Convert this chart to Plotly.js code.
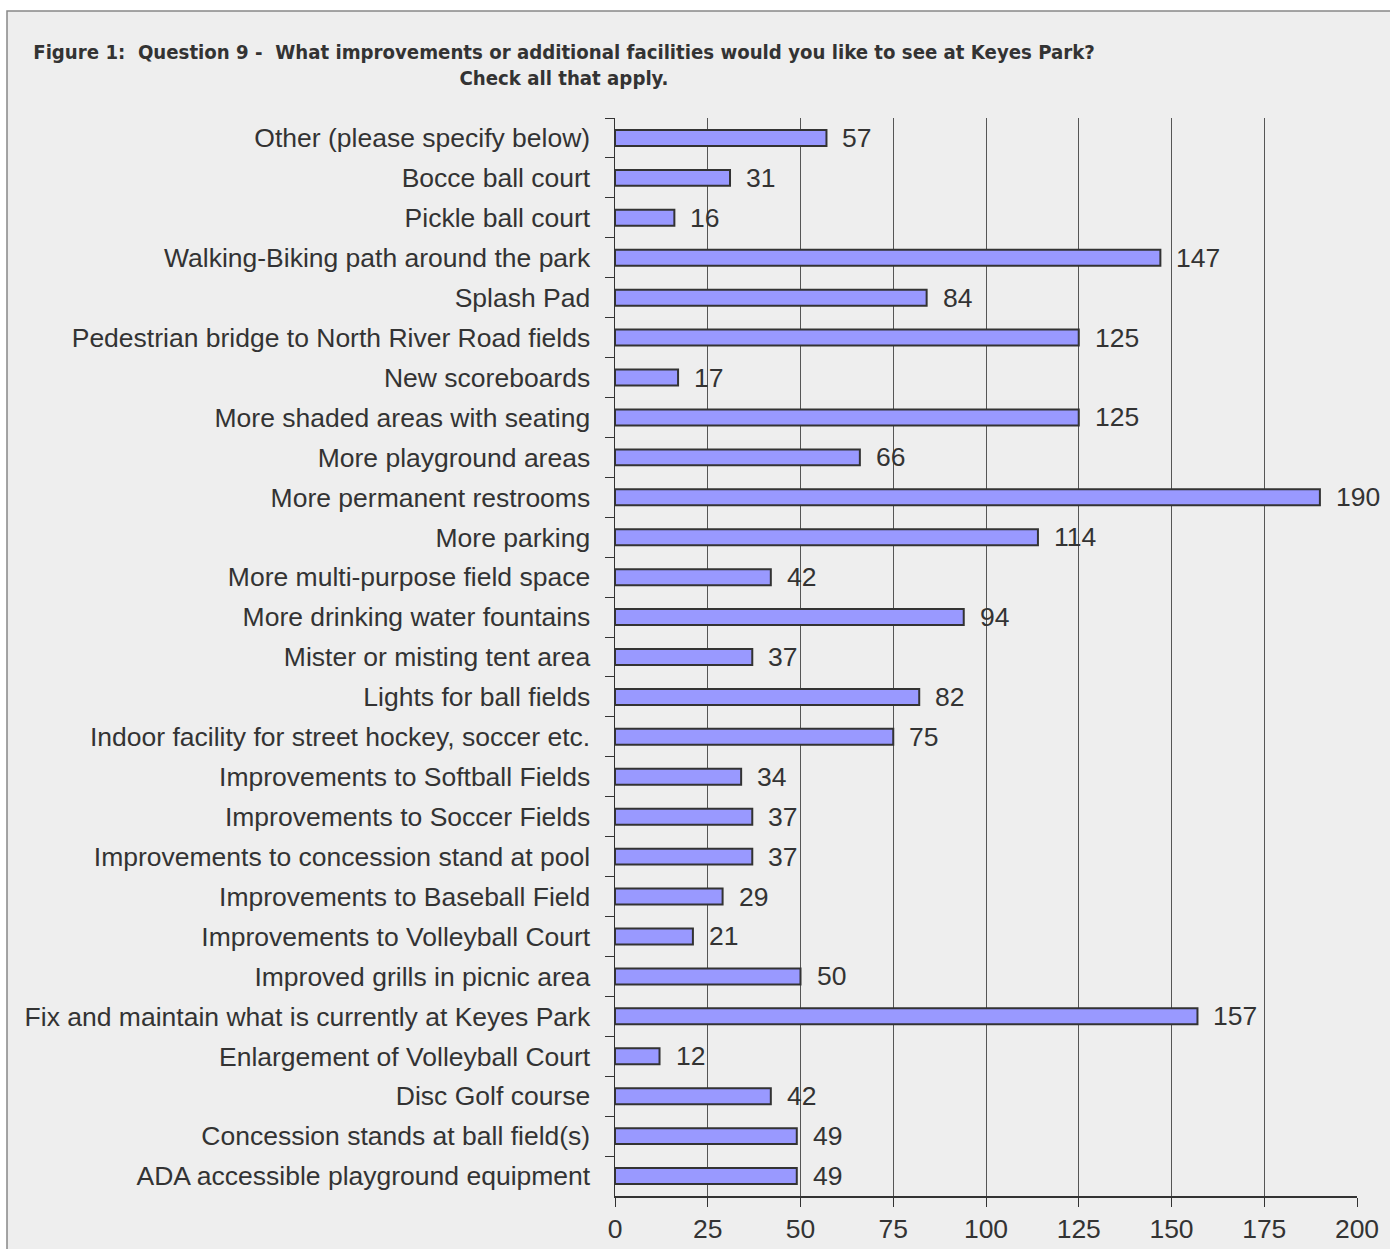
<!DOCTYPE html>
<html>
<head>
<meta charset="utf-8">
<script src="https://cdn.plot.ly/plotly-3.0.1.min.js"></script>
<style>html,body{margin:0;padding:0;background:#fff;}#chart{width:1390px;height:1249px;}</style>
</head>
<body>
<div id="chart"></div>
<script>
const categories = [
  "Other (please specify below)",
  "Bocce ball court",
  "Pickle ball court",
  "Walking-Biking path around the park",
  "Splash Pad",
  "Pedestrian bridge to North River Road fields",
  "New scoreboards",
  "More shaded areas with seating",
  "More playground areas",
  "More permanent restrooms",
  "More parking",
  "More multi-purpose field space",
  "More drinking water fountains",
  "Mister or misting tent area",
  "Lights for ball fields",
  "Indoor facility for street hockey, soccer etc.",
  "Improvements to Softball Fields",
  "Improvements to Soccer Fields",
  "Improvements to concession stand at pool",
  "Improvements to Baseball Field",
  "Improvements to Volleyball Court",
  "Improved grills in picnic area",
  "Fix and maintain what is currently at Keyes Park",
  "Enlargement of Volleyball Court",
  "Disc Golf course",
  "Concession stands at ball field(s)",
  "ADA accessible playground equipment"
];
const counts = [57, 31, 16, 147, 84, 125, 17, 125, 66, 190, 114, 42, 94, 37, 82, 75, 34, 37, 37, 29, 21, 50, 157, 12, 42, 49, 49];
const xTicks = [0, 25, 50, 75, 100, 125, 150, 175, 200];
const titleText = "Figure 1:  Question 9 -  What improvements or additional facilities would you like to see at Keyes Park?<br>Check all that apply.";

const labelFont = {family: "Liberation Sans, Arial, sans-serif", size: 26.5, color: "#333333"};

const trace = {
  type: "bar",
  orientation: "h",
  y: categories,
  x: counts,
  width: 0.4,
  marker: {color: "#9999FF", line: {color: "#333333", width: 2}},
  hoverinfo: "x+y"
};

const annotations = counts.map((v, i) => ({
  x: v, y: categories[i], xref: "x", yref: "y",
  text: String(v), showarrow: false, xanchor: "left", yanchor: "middle",
  xshift: 14, font: labelFont
}));

const layout = {
  width: 1390, height: 1249,
  margin: {l: 615, r: 33, t: 118, b: 53, pad: 0},
  paper_bgcolor: "#ffffff",
  plot_bgcolor: "rgba(0,0,0,0)",
  showlegend: false,
  title: {
    text: titleText,
    font: {family: "DejaVu Sans Condensed, Liberation Sans Narrow, Arial Narrow, sans-serif", size: 20.2, color: "#333333", weight: "bold"},
    x: 564/1390, xanchor: "center", xref: "container",
    y: 1 - 59/1249, yanchor: "top", yref: "container"
  },
  xaxis: {
    range: [0, 200], tickvals: xTicks, ticktext: xTicks.map(String),
    showgrid: true, gridcolor: "#555555", gridwidth: 1,
    zeroline: false, showline: true, linecolor: "#333333", linewidth: 1.5,
    ticks: "outside", ticklen: 9, tickcolor: "#333333", tickwidth: 1,
    tickfont: labelFont, fixedrange: true
  },
  yaxis: {
    type: "category", autorange: "reversed",
    showgrid: false, zeroline: false, showline: true, linecolor: "#333333", linewidth: 1.5,
    ticks: "outside", tickson: "boundaries", ticklen: 9, tickcolor: "#333333", tickwidth: 1,
    tickfont: labelFont, ticklabelstandoff: 18, automargin: false
  },
  shapes: [{
    type: "rect", xref: "paper", yref: "paper", layer: "below",
    x0: (7 - 615) / 742, x1: (1400 - 615) / 742,
    y0: (1196 - 1260) / 1078, y1: (1196 - 11) / 1078,
    fillcolor: "#EEEEEE", line: {color: "#888888", width: 1.5}
  }],
  annotations: annotations
};

Plotly.newPlot("chart", [trace], layout, {displayModeBar: false, staticPlot: true});
</script>
</body>
</html>
